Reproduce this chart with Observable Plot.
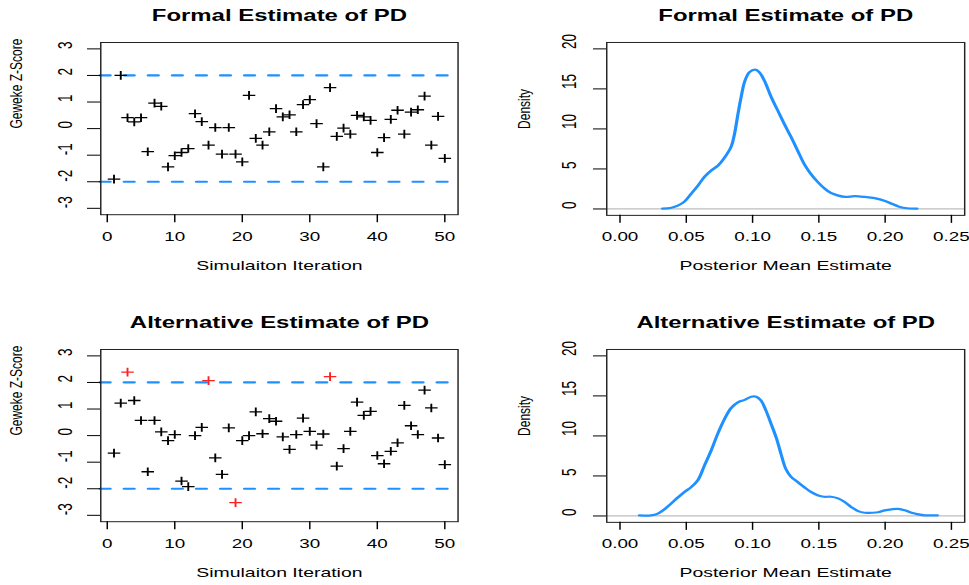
<!DOCTYPE html>
<html><head><meta charset="utf-8">
<script src="https://cdn.jsdelivr.net/npm/d3@7"></script>
<script src="https://cdn.jsdelivr.net/npm/@observablehq/plot@0.6"></script>
<style>
html,body{margin:0;padding:0;background:#fff;overflow:hidden;}
#page{position:relative;width:969px;height:585px;overflow:hidden;background:#fff;}
#stage{position:absolute;left:0;top:0;width:668.28px;height:585px;transform:scaleX(1.45);transform-origin:0 0;}
.panel{position:absolute;}
.panel svg{display:block;overflow:visible;}
</style></head><body>
<div id="page"><div id="stage">
<div class="panel" id="tl" style="left:0px;top:0px"></div>
<div class="panel" id="tr" style="left:334.48px;top:0px"></div>
<div class="panel" id="bl" style="left:0px;top:307.4px"></div>
<div class="panel" id="br" style="left:334.48px;top:307.4px"></div>
</div></div>
<script>
// ---------- data ----------
const iteration = [1,2,3,4,5,6,7,8,9,10,11,12,13,14,15,16,17,18,19,20,21,22,23,24,25,
  26,27,28,29,30,31,32,33,34,35,36,37,38,39,40,41,42,43,44,45,46,47,48,49,50];
const formalZ = [-1.90,2.00,0.41,0.25,0.41,-0.87,0.96,0.84,-1.44,-1.02,-0.90,-0.75,0.56,0.26,-0.62,0.04,-0.96,0.04,-0.96,-1.25,
  1.25,-0.37,-0.62,-0.12,0.75,0.44,0.52,-0.12,0.90,1.09,0.19,-1.44,1.54,-0.29,0.02,-0.21,0.50,0.44,0.31,-0.90,
  -0.34,0.35,0.69,-0.21,0.62,0.71,1.22,-0.62,0.46,-1.12];
const altZ = [-0.66,1.22,2.39,1.32,0.57,-1.36,0.57,0.14,-0.19,0.04,-1.71,-1.92,0.00,0.31,2.07,-0.84,-1.46,0.29,-2.52,-0.19,
  0.00,0.89,0.07,0.64,0.54,-0.05,-0.52,0.04,0.66,0.16,-0.36,0.06,2.22,-1.15,-0.49,0.16,1.26,0.76,0.91,-0.75,
  -1.06,-0.59,-0.27,1.14,0.37,0.04,1.71,1.04,-0.09,-1.09];
const zTicks = [-3,-2,-1,0,1,2,3];
const iterTicks = [0,10,20,30,40,50];
const gewekeBounds = [-2,2];

const formalDensX = [0.032,0.038,0.0436,0.0486,0.0537,0.0587,0.0637,0.0688,0.0738,0.0788,0.0839,0.0864,0.0889,0.0914,0.094,0.0977,
  0.102,0.105,0.109,0.114,0.119,0.124,0.129,0.134,0.139,0.143,0.149,0.154,0.159,0.164,0.170,0.177,0.185,0.192,0.200,0.205,0.210,0.215,0.224];
const formalDensY = [0.05,0.12,0.42,0.92,1.9,2.9,4.0,4.8,5.4,6.4,7.8,9.4,11.8,14.0,15.9,17.1,
  17.4,17.1,16.0,14.0,12.3,10.6,9.0,7.3,5.6,4.6,3.4,2.6,2.0,1.7,1.5,1.6,1.5,1.35,1.0,0.65,0.32,0.12,0.03];
const altDensX = [0.0146,0.0234,0.0285,0.0335,0.0385,0.0436,0.0486,0.0537,0.0587,0.0637,0.0688,0.0738,0.0788,0.0839,0.0889,0.094,
  0.099,0.1028,0.1065,0.110,0.114,0.118,0.1217,0.125,0.129,0.134,0.139,0.144,0.149,0.154,0.159,0.1645,0.1695,0.1746,0.1796,0.1846,
  0.1897,0.1947,0.1997,0.2048,0.210,0.2149,0.2199,0.225,0.230,0.2395];
const altDensY = [0.08,0.08,0.3,0.83,1.54,2.3,3.0,3.6,4.46,6.3,8.2,10.3,12.1,13.5,14.2,14.5,
  14.9,14.9,14.4,13.2,11.5,9.7,7.6,5.9,4.9,4.25,3.6,3.0,2.6,2.4,2.4,2.2,1.75,1.1,0.6,0.4,
  0.4,0.46,0.7,0.83,0.88,0.7,0.4,0.2,0.08,0.08];
const densXTicks = [0,0.05,0.10,0.15,0.20,0.25];
const densYTicks = [0,5,10,15,20];
const zeroLine = [0];

const FONT = "'Liberation Sans', Arial, sans-serif";
const BLUE = "#1E90FF";

function baseStyle() {
  return {fontFamily: FONT, background: "transparent", overflow: "visible", color: "black"};
}

function gewekePanel(title, z) {
  const pts = iteration.map((it, i) => ({it, z: z[i]}));
  return Plot.plot({
    width: 334, height: 278,
    marginLeft: 69, marginRight: 18.6, marginTop: 42, marginBottom: 63.8,
    style: baseStyle(),
    x: {domain: [-0.96, 51.96]},
    y: {domain: [-3.24, 3.24]},
    marks: [
      Plot.ruleY(gewekeBounds, {stroke: BLUE, strokeWidth: 2.2, strokeDasharray: "7,9.6", strokeLinecap: "round"}),
      Plot.dot(pts, {filter: d => Math.abs(d.z) <= 2, x: "it", y: "z", symbol: "plus", r: 2.9, stroke: "black", strokeWidth: 1.3}),
      Plot.dot(pts, {filter: d => Math.abs(d.z) > 2, x: "it", y: "z", symbol: "plus", r: 2.9, stroke: "#FF2020", strokeWidth: 1.3}),
      Plot.frame({stroke: "#222", strokeWidth: 1}),
      Plot.axisX({ticks: iterTicks, tickSize: 8, tickFormat: () => "", label: null}),
      Plot.axisY({ticks: zTicks, tickSize: 9, tickFormat: () => "", label: null}),
      Plot.text(iterTicks, {x: d => d, frameAnchor: "bottom", dy: 26.5, text: d => String(d), fontSize: 13}),
      Plot.text(zTicks, {y: d => d, frameAnchor: "left", dx: -24.2, rotate: -90, text: d => String(d), fontSize: 13.5}),
      Plot.text([title], {frameAnchor: "top", dy: -33.5, text: d => d, fontWeight: "bold", fontSize: 16.5}),
      Plot.text(["Simulaiton Iteration"], {frameAnchor: "bottom", dy: 55.5, text: d => d, fontSize: 13.4}),
      Plot.text(["Geweke Z-Score"], {frameAnchor: "left", dx: -58, rotate: -90, text: d => d, fontSize: 12})
    ]
  });
}

function densPanel(title, xs, ys) {
  const pts = xs.map((x, i) => ({x, y: ys[i]}));
  return Plot.plot({
    width: 334, height: 278,
    marginLeft: 84, marginRight: 3, marginTop: 42, marginBottom: 63,
    style: baseStyle(),
    x: {domain: [-0.01, 0.26]},
    y: {domain: [-0.8, 20.8]},
    marks: [
      Plot.ruleY(zeroLine, {stroke: "#BEBEBE", strokeWidth: 1.2}),
      Plot.line(pts, {x: "x", y: "y", stroke: BLUE, strokeWidth: 2.2, curve: "catmull-rom"}),
      Plot.frame({stroke: "#222", strokeWidth: 1}),
      Plot.axisX({ticks: densXTicks, tickSize: 8, tickFormat: () => "", label: null}),
      Plot.axisY({ticks: densYTicks, tickSize: 9, tickFormat: () => "", label: null}),
      Plot.text(densXTicks, {x: d => d, frameAnchor: "bottom", dy: 26, text: d => d.toFixed(2), fontSize: 13}),
      Plot.text(densYTicks, {y: d => d, frameAnchor: "left", dx: -25.3, rotate: -90, text: d => String(d), fontSize: 13.5}),
      Plot.text([title], {frameAnchor: "top", dy: -33.5, text: d => d, fontWeight: "bold", fontSize: 16.5}),
      Plot.text(["Posterior Mean Estimate"], {frameAnchor: "bottom", dy: 54.5, text: d => d, fontSize: 13.4}),
      Plot.text(["Density"], {frameAnchor: "left", dx: -57, rotate: -90, text: d => d, fontSize: 12})
    ]
  });
}

document.getElementById("tl").append(gewekePanel("Formal Estimate of PD", formalZ));
document.getElementById("tr").append(densPanel("Formal Estimate of PD", formalDensX, formalDensY));
document.getElementById("bl").append(gewekePanel("Alternative Estimate of PD", altZ));
document.getElementById("br").append(densPanel("Alternative Estimate of PD", altDensX, altDensY));
</script>
</body></html>
